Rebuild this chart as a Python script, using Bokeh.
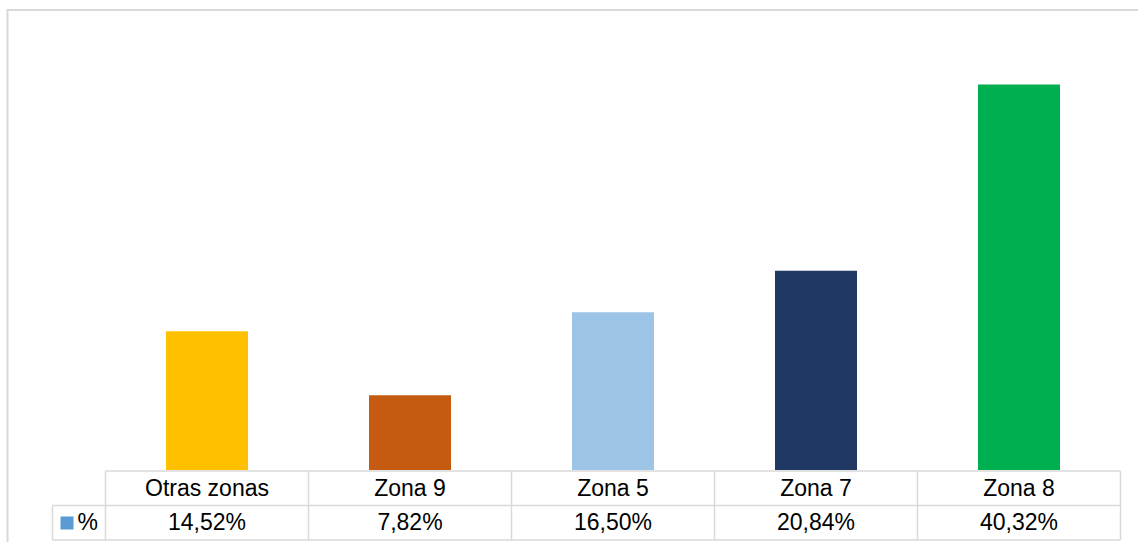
from bokeh.plotting import figure
from bokeh.models import Range1d, ColumnDataSource
from bokeh.core.properties import value
from bokeh.embed import file_html
from bokeh.resources import INLINE

# ---- data ----
categories = ["Otras zonas", "Zona 9", "Zona 5", "Zona 7", "Zona 8"]
values = [14.52, 7.82, 16.50, 20.84, 40.32]
value_labels = ["14,52%", "7,82%", "16,50%", "20,84%", "40,32%"]
series_name = "%"
colors = ["#FFC000", "#C55A11", "#9DC3E6", "#203864", "#00B050"]

# ---- layout constants (figure pixels) ----
W, H = 1138, 542
col_left = 105.0     # left edge of first category column
col_w = 203.0        # width of each column
base_y = 469.5       # pixel row of value 0
px_per_unit = 9.56   # vertical scale
GRID = "#D9D9D9"
FONT = "Liberation Sans"
FS = "23px"

x0 = -col_left / col_w
x1 = x0 + W / col_w
y1 = base_y / px_per_unit
y0 = -(H - base_y) / px_per_unit

p = figure(width=W, height=H, output_backend="svg", toolbar_location=None,
           x_range=Range1d(x0, x1), y_range=Range1d(y0, y1),
           x_axis_type=None, y_axis_type=None, min_border=0,
           min_border_left=0, min_border_right=0, min_border_top=0, min_border_bottom=0)
p.outline_line_color = None
p.grid.visible = False
p.background_fill_color = "white"
p.border_fill_color = "white"

# pixel ranges for the table / frame decoration
p.extra_x_ranges = {"px": Range1d(0, W)}
p.extra_y_ranges = {"px": Range1d(H, 0)}

# bars through data scale
src = ColumnDataSource(dict(x=[i + 0.5 for i in range(len(categories))],
                            top=values, color=colors,
                            cat=categories, lab=value_labels))
p.vbar(x="x", top="top", bottom=0, width=82 / col_w, color="color",
       line_color=None, source=src)

# outer chart border (top and left visible)
p.segment(x0=[6, 7], y0=[9.5, 9.5], x1=[W, 7], y1=[9.5, H],
          line_color=GRID, line_width=2, x_range_name="px", y_range_name="px")

# data table grid
right = col_left + col_w * len(categories)
hx0 = [col_left, 52, 52]
hy = [470.5, 505, 539.5]
hx1 = [right, right, right]
vx = [52] + [col_left + col_w * i for i in range(len(categories) + 1)]
vy0 = [505] + [470.5] * (len(categories) + 1)
vy1 = [539.5] * (len(categories) + 2)
p.segment(x0=hx0, y0=hy, x1=hx1, y1=hy, line_color=GRID, line_width=1.5,
          x_range_name="px", y_range_name="px")
p.segment(x0=vx, y0=vy0, x1=vx, y1=vy1, line_color=GRID, line_width=1.5,
          x_range_name="px", y_range_name="px")

# table texts (x via data scale, y in pixels)
p.text(x="x", y=487, text="cat", source=src, text_font=value(FONT),
       text_font_size=FS, text_align="center", text_baseline="middle",
       text_color="#000000", y_range_name="px")
p.text(x="x", y=521, text="lab", source=src, text_font=value(FONT),
       text_font_size=FS, text_align="center", text_baseline="middle",
       text_color="#000000", y_range_name="px")

# legend key + series name
p.rect(x=[66.5], y=[522.5], width=13, height=13, fill_color="#5B9BD5",
       line_color=None, x_range_name="px", y_range_name="px")
p.text(x=[77], y=[521], text=[series_name], text_font=value(FONT),
       text_font_size=FS, text_align="left", text_baseline="middle",
       text_color="#000000", x_range_name="px", y_range_name="px")

open("out.html", "w").write(file_html(p, INLINE))
